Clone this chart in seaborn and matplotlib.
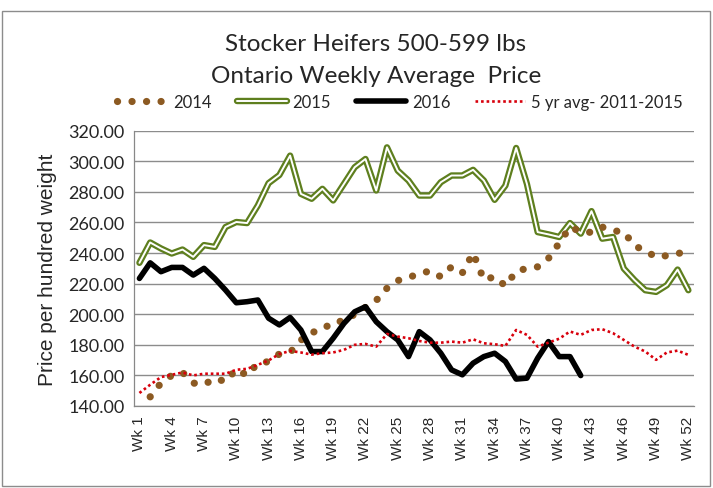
import numpy as np
import pandas as pd
import matplotlib
matplotlib.use("Agg")
import matplotlib.pyplot as plt
from matplotlib.lines import Line2D
from matplotlib.patches import Rectangle
import seaborn as sns

nan = np.nan
weeks = list(range(1, 53))

y2014 = [nan, 146, 155, 160, 162, 155, 154, 158, 156, 164,
         160, 168, 169, 174, 175, 183, 188, 190, 195, 195.5,
         200, 204.5, 209, 217, 222, 224, 226.5, 228.3, 224.5, 231,
         227, 240, 222.5, 224.5, 218.5, 228, 230, 231, 236.5, 246.5,
         257, 254, 253.5, 257, 254.6, 253.8, 244.8, 241.4, 237.4, 238.3,
         239.8, 240.5]

y2015 = [233.6, 246.9, 243, 239.7, 242.3, 237.5, 245.2, 244, 257, 260.3,
         259.6, 271.1, 285.7, 291, 303.7, 278.7, 275.5, 282, 274.4, 285.2,
         296.1, 301.5, 280.9, 309.1, 293.9, 287.4, 277.6, 277.6, 286.3, 290.7,
         290.7, 294.4, 287.4, 274.8, 284.1, 308.7, 285.2, 253.7, 252.2, 250.5,
         259.6, 252.7, 267.4, 249.4, 250.5, 229.9, 222.3, 215.7, 214.6, 219,
         229.2, 215.7]

y2016 = [223.4, 233.6, 227.8, 230.6, 230.6, 225.6, 230, 223.4, 215.8, 207.5,
         208.2, 209.3, 197.4, 193, 197.9, 189.7, 175.6, 175.6, 184.3, 194,
         201.6, 204.9, 195.1, 188.6, 183.2, 172.3, 188.6, 183.2, 174.5, 163.6,
         160.4, 168, 172.3, 174.5, 169.1, 157.6, 158.2, 171.3, 182.1, 172.3,
         172.3, 159.9] + [nan] * 10

avg5 = [148.5, 153.9, 158.9, 160.4, 161.9, 160, 161.1, 161.1, 161.1, 163.7,
        164.3, 166.9, 169.8, 174, 176, 175, 173.6, 174.5, 175, 176.7,
        180, 180.6, 178.8, 187.1, 185.4, 184.3, 182.5, 181.4, 181.4, 182.1,
        181.4, 183.6, 181, 180.4, 179.3, 189.7, 186.5, 178.8, 181.4, 184,
        188.7, 186.5, 189.7, 190.2, 187.6, 183.2, 178.8, 175.6, 170.2, 175,
        176.2, 173.4]

label_weeks = list(range(1, 53, 3))
tick_labels = ["Wk %d" % w for w in label_weeks]

df = pd.DataFrame({"week": weeks, "2014": y2014, "2015": y2015,
                   "2016": y2016, "avg": avg5})

sns.set_style("white")
narrow = ["Lato", "DejaVu Sans"]
plt.rcParams["font.family"] = ["Liberation Sans", "DejaVu Sans"]

green = "#5e7f1e"
brown = "#8c5a22"
red = "#d8000c"
dots = (0, (0.01, 2.0))

fig = plt.figure(figsize=(7.13, 4.89), dpi=100)
ax = fig.add_axes([0.188, 0.1677, 0.785, 0.563])

# 2015 double line: green outer, white core
sns.lineplot(data=df, x="week", y="2015", ax=ax, color=green, lw=4.6)
sns.lineplot(data=df, x="week", y="2015", ax=ax, color="white", lw=1.4)
sns.lineplot(data=df, x="week", y="2014", ax=ax, color=brown, lw=5.2,
             linestyle=dots, dash_capstyle="round")
sns.lineplot(data=df, x="week", y="2016", ax=ax, color="black", lw=4.0)
sns.lineplot(data=df, x="week", y="avg", ax=ax, color=red, lw=1.9,
             linestyle=(0, (1, 1.1)))

ax.set_xlim(0.5, 52.5)
ax.set_ylim(140, 320)
ax.set_yticks(np.arange(140, 321, 20))
ax.set_yticklabels(["%.2f" % v for v in np.arange(140, 321, 20)],
                   family=narrow, fontsize=13)
ax.set_xticks(label_weeks)
ax.set_xticklabels(tick_labels, rotation=90, fontsize=11)
ax.set_xticks(np.arange(0.5, 53, 1), minor=True)
ax.tick_params(axis="x", which="major", length=0, pad=7)
ax.tick_params(axis="x", which="minor", length=5, color="#888888", width=0.8)
ax.tick_params(axis="y", length=5, color="#888888", width=0.8, pad=2)
ax.yaxis.grid(True, color="#8c8c8c", lw=1.0)
ax.set_axisbelow(True)
for s in ["top", "right"]:
    ax.spines[s].set_visible(False)
for s in ["left", "bottom"]:
    ax.spines[s].set_color("#888888")
    ax.spines[s].set_linewidth(0.9)
ax.set_xlabel("")
ax.set_ylabel("Price per hundred weight", fontsize=15, labelpad=8)

fig.text(0.527, 0.908, "Stocker Heifers 500-599 lbs", ha="center",
         va="center", fontsize=17.5, family=narrow)
fig.text(0.527, 0.843, "Ontario Weekly Average  Price", ha="center",
         va="center", fontsize=17.5, family=narrow)

h2014 = Line2D([], [], color=brown, lw=5.2, linestyle=dots,
               dash_capstyle="round")
h2015 = (Line2D([], [], color=green, lw=4.6), Line2D([], [], color="white", lw=1.4))
h2016 = Line2D([], [], color="black", lw=4.0)
havg = Line2D([], [], color=red, lw=1.9, linestyle=(0, (1, 1.1)))
fig.legend([h2014, h2015, h2016, havg],
           ["2014", "2015", "2016", "5 yr avg- 2011-2015"],
           loc="center", bbox_to_anchor=(0.561, 0.789), ncol=4, frameon=False,
           prop={"family": narrow, "size": 12}, handlelength=3.0,
           handletextpad=0.35, columnspacing=1.5, borderpad=0, borderaxespad=0)

fig.patches.append(Rectangle((0.003, 0.004), 0.993, 0.972, transform=fig.transFigure,
                             fill=False, edgecolor="#8c8c8c", lw=1.0))

fig.savefig("out.png", dpi=100)
